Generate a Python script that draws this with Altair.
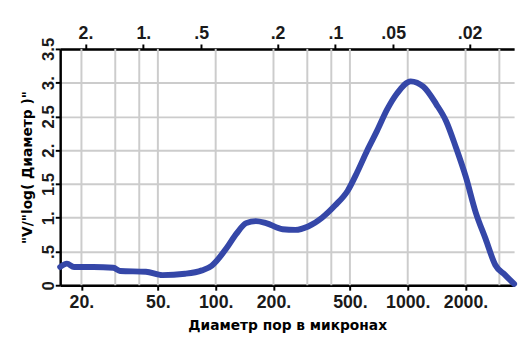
import altair as alt
import pandas as pd

# Pore-size distribution curve (bottom axis value, dV/dlog value)
x_vals = [15.5, 16.8, 18.3, 23.1, 29.3, 31.8, 43.3, 52.8, 69.3, 84.8, 95.4, 101, 114, 128,
          144, 162, 183, 223, 260, 303, 358, 418, 487, 547, 616, 693, 780, 879, 1036,
          1208, 1409, 1585, 1783, 2009, 2259, 2541, 2858, 3218, 3580]
y_vals = [0.27, 0.32, 0.27, 0.27, 0.26, 0.21, 0.20, 0.15, 0.17, 0.22, 0.29, 0.36, 0.55, 0.76,
          0.92, 0.95, 0.92, 0.83, 0.82, 0.87, 1.00, 1.18, 1.40, 1.68, 2.00, 2.29, 2.60, 2.84, 3.02,
          2.94, 2.68, 2.43, 2.04, 1.60, 1.08, 0.69, 0.30, 0.15, 0.02]

bottom_ticks = [20, 50, 100, 200, 500, 1000, 2000]
bottom_labels = ["20.", "50.", "100.", "200.", "500.", "1000.", "2000."]
top_microns = [2, 1, 0.5, 0.2, 0.1, 0.05, 0.02]
top_labels = ["2.", "1.", ".5", ".2", ".1", ".05", ".02"]
conv = 42
grid_x = [20, 30, 40, 50, 100, 200, 300, 400, 500, 1000, 2000, 3000]
y_ticks = [0, 0.5, 1, 1.5, 2, 2.5, 3, 3.5]
y_labels = ["0", ".5", "1.", "1.5", "2.", "2.5", "3.", "3.5"]
x_domain = [15.5, 3580]
y_domain = [0, 3.5]

curve = pd.DataFrame({"d": x_vals, "v": y_vals})
grid_df = pd.DataFrame({"gx": grid_x})
top_pos = [round(conv / m, 6) for m in top_microns]
top_df = pd.DataFrame({"t": top_pos})


def expr(values, labels):
    parts = []
    for v, l in zip(values, labels):
        parts.append(f"abs(datum.value - {v}) < 0.001 ? '{l}'")
    return " : ".join(parts) + " : ''"


LABEL_FONT = "Liberation Sans"
TITLE_FONT = "DejaVu Sans"
LABEL_COLOR = "#1a1a1a"

xscale = alt.Scale(type="log", domain=x_domain, nice=False, zero=False)
yscale = alt.Scale(domain=y_domain, nice=False, zero=False)

grid = alt.Chart(grid_df).mark_rule(color="#cccccc", strokeWidth=2).encode(
    x=alt.X("gx:Q", scale=xscale, axis=None)
)

bottom_axis = alt.Axis(
    values=bottom_ticks, labelExpr=expr(bottom_ticks, bottom_labels),
    title="Диаметр пор в микронах", titleFont=TITLE_FONT, titleFontSize=14,
    titleFontWeight="bold", titleColor="#000000", titlePadding=7,
    labelFont=LABEL_FONT, labelFontSize=18, labelFontWeight="bold", labelColor=LABEL_COLOR,
    labelPadding=4,
    grid=False, domainColor="#000000", domainWidth=2.5, tickColor="#000000",
    tickWidth=2, tickSize=5, labelFlush=False, labelOverlap=False,
)

y_axis = alt.Axis(
    values=y_ticks, labelExpr=expr(y_ticks, y_labels),
    title='"V/"log( Диаметр )"', titleFont=TITLE_FONT, titleFontSize=14,
    titleFontWeight="bold", titleColor="#000000", titlePadding=5,
    labelFont=LABEL_FONT, labelFontSize=17, labelFontWeight="bold", labelColor=LABEL_COLOR,
    labelAngle=270, labelAlign="center", labelBaseline="alphabetic", labelPadding=2,
    grid=True, gridColor="#cccccc", gridWidth=2,
    domainColor="#000000", domainWidth=2.5, tickColor="#000000", tickWidth=2,
    tickSize=5, labelFlush=False, labelOverlap=False,
)

line = alt.Chart(curve).mark_line(
    color="#3547a8", strokeWidth=6, interpolate="monotone", strokeCap="round"
).encode(
    x=alt.X("d:Q", scale=xscale, axis=bottom_axis),
    y=alt.Y("v:Q", scale=yscale, axis=y_axis),
)

top_axis = alt.Axis(
    orient="top", values=top_pos, labelExpr=expr(top_pos, top_labels), title=None,
    labelFont=LABEL_FONT, labelFontSize=18, labelFontWeight="bold", labelColor=LABEL_COLOR,
    labelPadding=2,
    grid=False, domainColor="#000000", domainWidth=2.5, tickColor="#000000",
    tickWidth=2, tickSize=5, labelFlush=False, labelOverlap=False,
)

top = alt.Chart(top_df).mark_point(opacity=0).encode(
    x=alt.X("t:Q", scale=xscale, axis=top_axis)
)

chart = alt.layer(grid, line, top).resolve_axis(x="independent").properties(
    width=461, height=240,
    autosize=alt.AutoSizeParams(type="none"),
    padding={"left": 53, "top": 39, "right": 6, "bottom": 50},
    background="#ffffff",
).configure_view(stroke=None)

chart.save("out.html", embed_options={"renderer": "svg", "actions": False})
